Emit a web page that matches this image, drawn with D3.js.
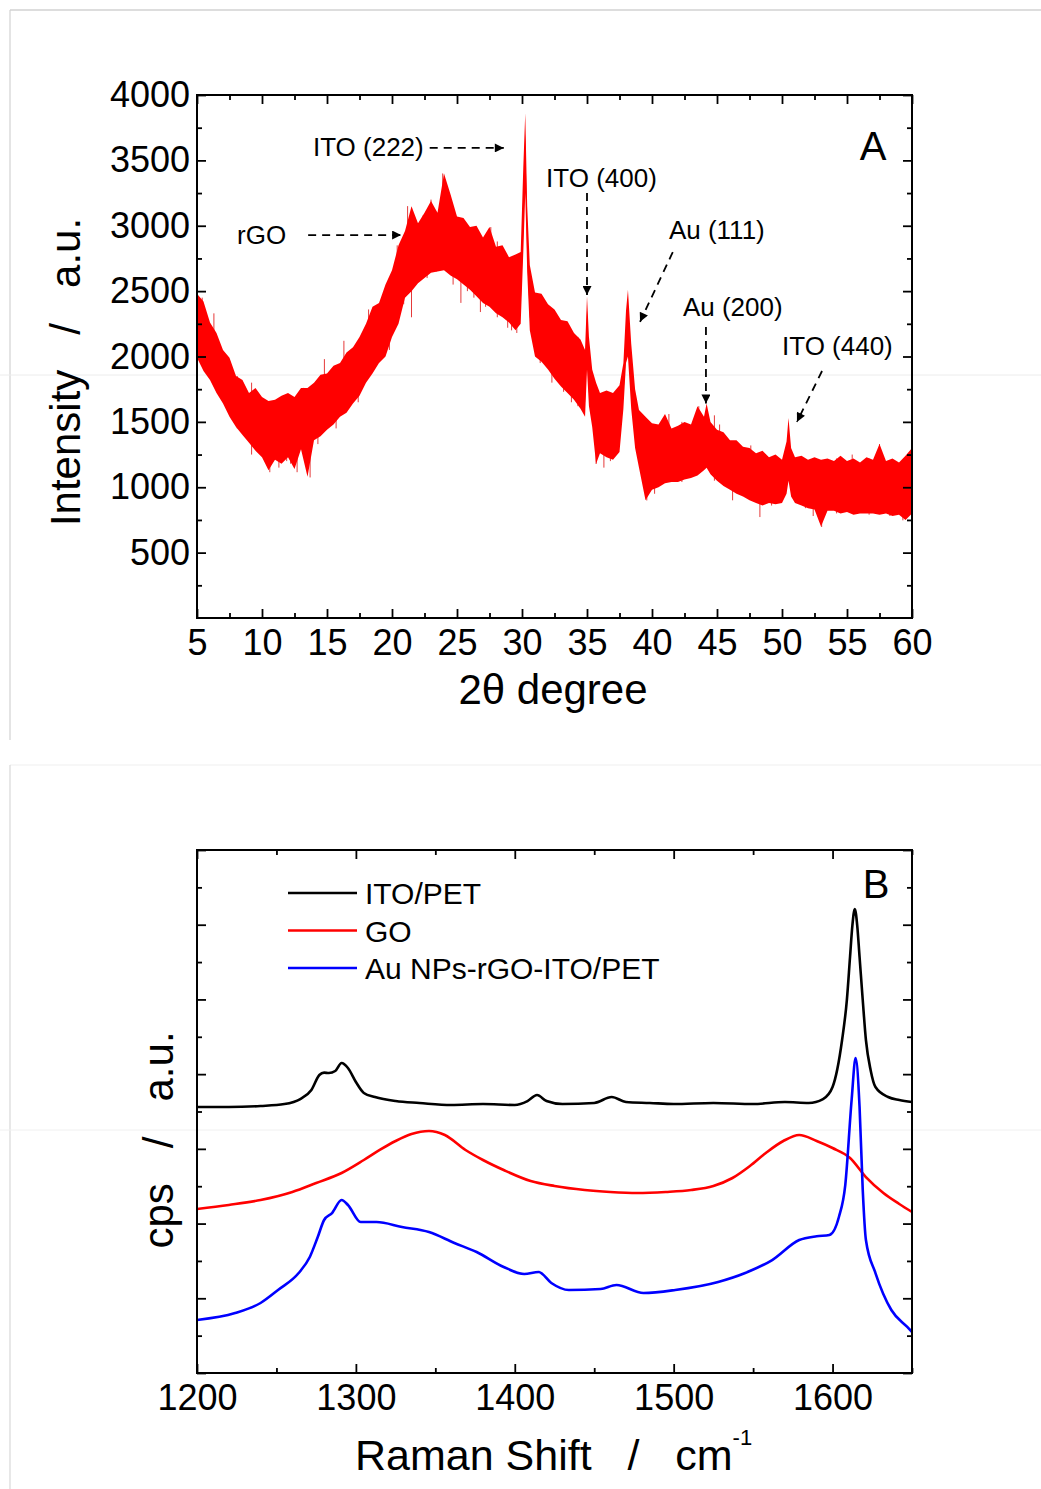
<!DOCTYPE html>
<html>
<head>
<meta charset="utf-8">
<script src="https://cdn.jsdelivr.net/npm/d3@7"></script>
<style>
  html, body { margin: 0; padding: 0; background: #fff; }
  svg { display: block; }
  text { font-family: "Liberation Sans", Arial, Helvetica, sans-serif; fill: #000; }
</style>
</head>
<body>
<svg id="fig" width="1041" height="1489"></svg>
<script>
// ---------- Panel A: XRD pattern (2θ in degrees, intensity in a.u.) ----------
const xrdTheta = [5,5.5,6,6.5,7,7.5,8,8.5,9,9.5,10,10.5,11,11.5,12,12.5,13,13.5,14,14.5,15,15.5,16,16.5,17,17.5,18,18.5,19,19.5,20,20.5,21,21.5,22,22.5,23,23.5,24,24.5,25,25.5,26,26.5,27,27.5,28,28.5,29,29.5,29.9,30.1,30.25,30.4,30.6,31,31.5,32,32.5,33,33.5,34,34.5,34.85,35.0,35.15,35.4,35.7,36,36.5,37,37.5,37.8,38.0,38.15,38.4,38.7,39,39.5,40,40.5,41,41.5,42,42.5,43,43.5,44,44.2,44.5,45,45.5,46,46.5,47,47.5,48,48.5,49,49.5,50,50.35,50.5,50.7,51,51.5,52,52.5,53,53.5,54,54.5,55,55.5,56,56.5,57,57.5,58,58.5,59,59.5,60];
// outer noise envelope (tips of the noise)
const xrdOuterHi = [2480,2420,2260,2180,2050,1990,1850,1820,1720,1760,1690,1660,1670,1700,1720,1690,1760,1760,1800,1860,1870,1930,1950,2030,2070,2150,2250,2380,2410,2550,2660,2850,2960,3150,3020,3100,3190,3100,3400,3240,3070,3060,2990,3000,2910,2990,2840,2850,2760,2780,2800,3450,3860,3150,2700,2490,2480,2400,2360,2280,2270,2180,2130,2050,2460,2150,1900,1800,1720,1740,1720,1780,1950,2350,2510,2100,1750,1590,1540,1490,1480,1560,1450,1470,1500,1480,1620,1540,1640,1500,1440,1420,1360,1360,1310,1300,1260,1280,1230,1250,1210,1350,1530,1300,1230,1240,1210,1230,1210,1220,1200,1240,1200,1220,1190,1230,1210,1330,1200,1220,1190,1240,1300];
const xrdOuterLo = [1990,1890,1820,1720,1640,1540,1460,1400,1340,1280,1230,1130,1210,1180,1230,1140,1290,1080,1360,1390,1440,1480,1540,1570,1640,1700,1800,1870,1950,2000,2150,2250,2450,2500,2560,2600,2640,2650,2660,2620,2590,2550,2510,2460,2410,2380,2330,2300,2260,2200,2250,2800,3250,2650,2200,2000,1960,1900,1830,1770,1720,1670,1600,1540,1900,1620,1460,1180,1260,1230,1210,1270,1600,1950,2000,1600,1300,1150,900,980,1000,1030,1040,1040,1060,1070,1090,1130,1150,1100,1050,1010,980,950,930,900,880,860,880,870,880,950,1050,930,880,860,840,830,700,820,820,800,810,790,800,800,800,790,800,780,790,750,800];
// dense core of the trace
const xrdCoreHi = [2360,2260,2150,2050,1950,1850,1750,1680,1620,1590,1560,1540,1540,1550,1570,1590,1620,1650,1680,1720,1760,1800,1850,1900,1960,2040,2130,2210,2290,2400,2510,2640,2800,2860,2900,2930,2960,2970,2960,2940,2920,2890,2850,2810,2770,2740,2700,2660,2620,2590,2620,3250,3700,2950,2560,2380,2320,2260,2200,2140,2090,2030,1960,1900,2350,1980,1780,1680,1600,1580,1570,1640,1850,2200,2330,1950,1620,1450,1400,1350,1340,1330,1330,1340,1350,1350,1380,1420,1450,1400,1330,1290,1250,1220,1200,1170,1150,1130,1120,1110,1100,1200,1350,1180,1120,1110,1100,1090,1080,1080,1080,1075,1070,1070,1070,1070,1070,1065,1060,1060,1060,1065,1080];
const xrdCoreLo = [2120,2020,1930,1840,1750,1650,1560,1490,1430,1390,1360,1340,1340,1350,1370,1390,1420,1450,1480,1520,1560,1600,1650,1700,1760,1840,1920,1990,2070,2170,2280,2400,2580,2630,2660,2700,2720,2740,2740,2720,2690,2650,2610,2570,2520,2480,2440,2400,2360,2330,2380,2950,3450,2750,2300,2100,2050,2000,1940,1880,1820,1770,1700,1650,2050,1720,1560,1460,1380,1360,1350,1400,1700,2030,2100,1750,1420,1260,1190,1120,1120,1130,1130,1140,1150,1160,1190,1220,1240,1200,1140,1100,1070,1040,1020,990,970,960,960,950,950,1030,1150,1010,960,940,930,915,900,905,910,905,900,895,890,895,900,895,890,885,880,885,900];
// individual noise spikes: [2θ, low, high]
const xrdSpikes = [[5.4,2050,2450],[6.3,1900,2330],[7.3,1600,2000],[8.1,1450,1850],[9.2,1250,1800],[10.6,1115,1500],[11.3,1150,1450],[11.9,1200,1700],[12.2,1180,1450],[12.7,1115,1500],[13.2,1250,1760],[13.7,1075,1500],[14.3,1330,1700],[14.8,1700,1980],[15.7,1450,1900],[16.3,1600,2120],[17.4,1650,2100],[18.2,2000,2360],[19.3,2000,2200],[19.8,2050,2600],[20.4,2300,2850],[20.9,2400,2900],[21.2,2600,3150],[21.5,2300,2700],[22.4,2700,3080],[22.7,2600,3050],[23.0,2800,3200],[23.4,2650,3100],[23.9,2800,3400],[24.3,2800,3260],[24.7,2550,3150],[25.3,2410,2700],[25.8,2500,3000],[26.3,2450,2950],[26.8,2340,2600],[27.2,2380,2850],[27.6,2600,2990],[28.1,2300,2880],[28.5,2330,2500],[28.9,2220,2750],[29.2,2200,2400],[29.6,2180,2400],[31.4,1950,2450],[32.3,1800,2100],[33.2,1730,2250],[33.8,1650,1900],[34.3,1620,2150],[35.7,1178,1500],[36.3,1150,1400],[36.8,1200,1700],[39.6,899,1200],[40.2,950,1300],[41.3,1200,1560],[42.3,1040,1500],[43.6,1200,1620],[44.8,1050,1550],[45.2,1200,1480],[46.2,900,1100],[47.6,1100,1320],[48.3,772,1000],[49.2,860,1230],[51.8,840,1200],[52.4,780,950],[53.05,696,900],[54.2,800,1220],[55.4,1000,1250],[56.7,790,1220],[57.5,1000,1330],[58.3,780,1200],[59.3,747,900],[60,1000,1300]];
const xrdXTicks = [5,10,15,20,25,30,35,40,45,50,55,60];
const xrdYTicks = [500,1000,1500,2000,2500,3000,3500,4000];
// peak assignments: label, text anchor (2θ, I), arrow tail and head (2θ, I)
const xrdNotes = [
  { label: "ITO (222)", at: [13.92, 3533], from: [22.9, 3595], to: [28.6, 3595] },
  { label: "rGO",       at: [8.08, 2860],  from: [13.55, 2929], to: [20.7, 2929] },
  { label: "ITO (400)", at: [31.85, 3296], from: [35.0, 3250], to: [35.0, 2470] },
  { label: "Au (111)",  at: [41.3, 2899],  from: [41.6, 2799], to: [39.08, 2265] },
  { label: "Au (200)",  at: [42.38, 2310], from: [44.15, 2226], to: [44.15, 1640] },
  { label: "ITO (440)", at: [50.0, 2011],  from: [53.08, 1889], to: [51.15, 1500] }
];

// ---------- Panel B: Raman spectra (cm-1, cps) ----------
const ramanSeries = ["ITO/PET", "GO", "Au NPs-rGO-ITO/PET"];
const ramanColors = ["#000000", "#ff0000", "#0000ff"];
const itoShift = [1200,1220,1240,1255,1265,1272,1277,1280,1283,1287,1291,1295,1300,1305,1312,1325,1340,1360,1380,1400,1408,1414,1420,1430,1450,1461,1470,1485,1500,1525,1550,1570,1585,1594,1600,1606,1609,1611,1612.5,1614,1615.5,1617,1619,1621,1624,1627,1635,1642,1650];
const itoCps   = [3560,3560,3574,3600,3667,3788,3988,4020,4015,4042,4149,4082,3895,3748,3694,3640,3614,3587,3600,3587,3640,3721,3640,3600,3614,3694,3627,3614,3600,3614,3600,3627,3614,3667,3828,4457,4992,5568,5996,6210,5996,5568,4992,4457,4050,3828,3694,3654,3627];
const goShift = [1200,1220,1240,1260,1275,1291,1305,1315,1325,1335,1346,1356,1369,1380,1393,1410,1425,1444,1460,1477,1495,1511,1525,1537,1548,1558,1569,1579,1590,1600,1611,1621,1632,1642,1650];
const goCps   = [2195,2249,2315,2423,2543,2677,2851,2985,3105,3199,3239,3185,2985,2851,2717,2570,2503,2449,2423,2409,2423,2449,2503,2610,2771,2945,3105,3185,3105,3011,2878,2623,2409,2262,2155];
const auShift = [1200,1224,1240,1251,1264,1271,1276,1280,1285,1291,1295,1303,1313,1329,1346,1362,1376,1393,1406,1415,1423,1434,1454,1464,1481,1501,1528,1545,1562,1579,1590,1598,1604,1608,1612,1614.5,1617,1619,1621,1627,1637,1647,1650];
const auCps   = [709,803,937,1111,1338,1553,1820,2048,2141,2315,2249,2021,2021,1954,1887,1740,1619,1419,1325,1352,1205,1111,1124,1178,1071,1111,1218,1338,1512,1780,1830,1847,2088,2516,3654,4216,3560,2449,1780,1338,843,616,549];
const ramanXTicks = [1200,1300,1400,1500,1600];

// ---------- layout ----------
const svg = d3.select("#fig");
const FONT = '"Liberation Sans", Arial, Helvetica, sans-serif';

// faint page edges around the two panels
const edges = svg.append("g").attr("fill", "none");
edges.append("line").attr("x1", 10).attr("y1", 10).attr("x2", 1041).attr("y2", 10).attr("stroke", "#d2d2d2").attr("stroke-width", 1.5);
edges.append("line").attr("x1", 10).attr("y1", 10).attr("x2", 10).attr("y2", 740).attr("stroke", "#d2d2d2").attr("stroke-width", 1.2);
edges.append("line").attr("x1", 10).attr("y1", 765).attr("x2", 1041).attr("y2", 765).attr("stroke", "#efefef").attr("stroke-width", 1.2);
edges.append("line").attr("x1", 10).attr("y1", 765).attr("x2", 10).attr("y2", 1489).attr("stroke", "#d8d8d8").attr("stroke-width", 1.2);
edges.append("line").attr("x1", 0).attr("y1", 375).attr("x2", 1041).attr("y2", 375).attr("stroke", "#ececec").attr("stroke-width", 1);
edges.append("line").attr("x1", 0).attr("y1", 1130).attr("x2", 1041).attr("y2", 1130).attr("stroke", "#f0f0f0").attr("stroke-width", 1);

// arrowhead marker
const defs = svg.append("defs");
defs.append("marker").attr("id", "head")
  .attr("viewBox", "0 0 10 10").attr("refX", 10).attr("refY", 5)
  .attr("markerUnits", "userSpaceOnUse").attr("markerWidth", 15).attr("markerHeight", 9)
  .attr("orient", "auto")
  .append("path").attr("d", "M0,0 L10,5 L0,10 Z").attr("fill", "#000");

// frame with inward major/minor ticks on all four sides
function drawFrame(g, x, y, xMajor, xMinor, yMajor, yMinor, xFmt, yFmt) {
  const [x0, x1] = x.range();
  const [y0, y1] = y.range(); // y0 bottom, y1 top
  const styleAxis = sel => {
    sel.select(".domain").remove();
    sel.selectAll(".tick line").attr("stroke", "#000").attr("stroke-width", 1.8);
    sel.selectAll(".tick text").attr("font-family", FONT).attr("font-size", 36).attr("fill", "#000");
  };
  g.append("g").attr("transform", `translate(0,${y0})`)
    .call(d3.axisBottom(x).tickValues(xMajor).tickSize(-9).tickPadding(11).tickFormat(xFmt)).call(styleAxis);
  g.append("g").attr("transform", `translate(0,${y0})`)
    .call(d3.axisBottom(x).tickValues(xMinor).tickSize(-5).tickFormat("")).call(styleAxis);
  g.append("g").attr("transform", `translate(0,${y1})`)
    .call(d3.axisTop(x).tickValues(xMajor).tickSize(-9).tickFormat("")).call(styleAxis);
  g.append("g").attr("transform", `translate(0,${y1})`)
    .call(d3.axisTop(x).tickValues(xMinor).tickSize(-5).tickFormat("")).call(styleAxis);
  g.append("g").attr("transform", `translate(${x0},0)`)
    .call(d3.axisLeft(y).tickValues(yMajor).tickSize(-9).tickPadding(7).tickFormat(yFmt)).call(styleAxis);
  g.append("g").attr("transform", `translate(${x0},0)`)
    .call(d3.axisLeft(y).tickValues(yMinor).tickSize(-5).tickFormat("")).call(styleAxis);
  g.append("g").attr("transform", `translate(${x1},0)`)
    .call(d3.axisRight(y).tickValues(yMajor).tickSize(-9).tickFormat("")).call(styleAxis);
  g.append("g").attr("transform", `translate(${x1},0)`)
    .call(d3.axisRight(y).tickValues(yMinor).tickSize(-5).tickFormat("")).call(styleAxis);
  g.append("rect").attr("x", x0).attr("y", y1).attr("width", x1 - x0).attr("height", y0 - y1)
    .attr("fill", "none").attr("stroke", "#000").attr("stroke-width", 2);
}

// ---------- Panel A ----------
const xA = d3.scaleLinear().domain([5, 60]).range([197, 912]);
const yA = d3.scaleLinear().domain([0, 4000]).range([618, 95]);
const gA = svg.append("g");

defs.append("clipPath").attr("id", "clipA").append("rect")
  .attr("x", 197).attr("y", 95).attr("width", 715).attr("height", 523);

const rows = xrdTheta.map((t, i) => ({ t, oh: xrdOuterHi[i], ol: xrdOuterLo[i], ch: xrdCoreHi[i], cl: xrdCoreLo[i] }));
const plotA = gA.append("g").attr("clip-path", "url(#clipA)");
// thin noise spikes poking out of the band
plotA.selectAll("line.spike").data(xrdSpikes).join("line").attr("class", "spike")
  .attr("x1", d => xA(d[0])).attr("x2", d => xA(d[0]))
  .attr("y1", d => yA(d[1])).attr("y2", d => yA(d[2]))
  .attr("stroke", "#e53a3a").attr("stroke-width", 1);
// full noise band
plotA.append("path").datum(rows)
  .attr("d", d3.area().x(d => xA(d.t)).y0(d => yA(d.ol)).y1(d => yA(d.oh)))
  .attr("fill", "#ff0000");
// dense core
plotA.append("path").datum(rows)
  .attr("d", d3.area().x(d => xA(d.t)).y0(d => yA(d.cl)).y1(d => yA(d.ch)))
  .attr("fill", "#ff0000");

drawFrame(gA, xA, yA,
  xrdXTicks, d3.range(7.5, 60, 5),
  xrdYTicks, d3.range(250, 4000, 500),
  d => d, d => d);

// peak labels and dashed arrows
const notes = gA.append("g");
xrdNotes.forEach(n => {
  notes.append("text").attr("x", xA(n.at[0])).attr("y", yA(n.at[1]))
    .attr("font-size", 26).text(n.label);
  notes.append("line")
    .attr("x1", xA(n.from[0])).attr("y1", yA(n.from[1]))
    .attr("x2", xA(n.to[0])).attr("y2", yA(n.to[1]))
    .attr("stroke", "#000").attr("stroke-width", 1.8).attr("stroke-dasharray", "8,6")
    .attr("marker-end", "url(#head)");
});
gA.append("text").attr("x", 873).attr("y", 160).attr("text-anchor", "middle")
  .attr("font-size", 40).text("A");

// axis titles
gA.append("text").attr("x", 553).attr("y", 704).attr("text-anchor", "middle")
  .attr("font-size", 42).text("2θ degree");
gA.append("text").attr("transform", "translate(80,372) rotate(-90)")
  .attr("text-anchor", "middle").attr("font-size", 42).attr("xml:space", "preserve")
  .style("white-space", "pre").text("Intensity   /   a.u.");

// ---------- Panel B ----------
const xB = d3.scaleLinear().domain([1200, 1650]).range([197, 912]);
const yB = d3.scaleLinear().domain([0, 7000]).range([1373, 850]);
const gB = svg.append("g");

defs.append("clipPath").attr("id", "clipB").append("rect")
  .attr("x", 197).attr("y", 850).attr("width", 715).attr("height", 523);

const spectra = [
  itoShift.map((s, i) => [s, itoCps[i]]),
  goShift.map((s, i) => [s, goCps[i]]),
  auShift.map((s, i) => [s, auCps[i]])
];
const lineB = d3.line().x(d => xB(d[0])).y(d => yB(d[1])).curve(d3.curveMonotoneX);
gB.append("g").attr("clip-path", "url(#clipB)")
  .selectAll("path").data(spectra).join("path")
  .attr("d", lineB).attr("fill", "none")
  .attr("stroke", (d, i) => ramanColors[i]).attr("stroke-width", 2.6)
  .attr("stroke-linejoin", "round");

drawFrame(gB, xB, yB,
  ramanXTicks, d3.range(1250, 1700, 100),
  d3.range(0, 7001, 1000), d3.range(500, 7000, 1000),
  d => d, () => "");

// legend
const legend = gB.append("g");
ramanSeries.forEach((name, i) => {
  const ly = 893 + i * 37.5;
  legend.append("line").attr("x1", 288).attr("x2", 357).attr("y1", ly).attr("y2", ly)
    .attr("stroke", ramanColors[i]).attr("stroke-width", 2.6);
  legend.append("text").attr("x", 365).attr("y", ly + 11).attr("font-size", 30).text(name);
});
gB.append("text").attr("x", 876).attr("y", 898).attr("text-anchor", "middle")
  .attr("font-size", 40).text("B");

// axis titles
const xt = gB.append("text").attr("x", 355).attr("y", 1470).attr("font-size", 43)
  .attr("xml:space", "preserve").style("white-space", "pre");
xt.append("tspan").text("Raman Shift   /   cm");
xt.append("tspan").attr("dy", -25).attr("font-size", 22).text("-1");
gB.append("text").attr("transform", "translate(173,1140) rotate(-90)")
  .attr("text-anchor", "middle").attr("font-size", 42).attr("xml:space", "preserve")
  .style("white-space", "pre").text("cps   /   a.u.");
</script>
</body>
</html>
